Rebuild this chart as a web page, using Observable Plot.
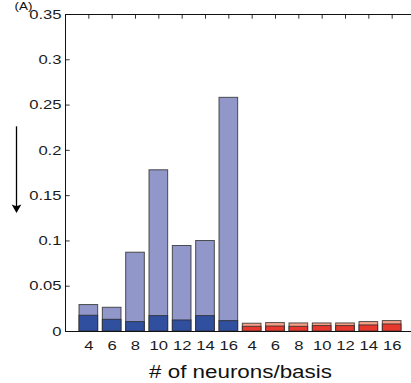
<!DOCTYPE html>
<html><head><meta charset="utf-8">
<script src="https://cdn.jsdelivr.net/npm/d3@7"></script>
<script src="https://cdn.jsdelivr.net/npm/@observablehq/plot@0.6"></script>
<style>
html,body{margin:0;padding:0;background:#fff;}
#chart{width:411px;height:383px;overflow:hidden;}
</style></head><body><div id="chart"></div>
<script>
// ---- data ----
const basisSizes = [4, 6, 8, 10, 12, 14, 16];
const blueTotal = [0.0292, 0.0262, 0.087, 0.178, 0.0944, 0.0999, 0.258];
const blueBase  = [0.0174, 0.0129, 0.0104, 0.017, 0.0122, 0.017, 0.0115];
const redTotal  = [0.0086, 0.0093, 0.0089, 0.0089, 0.0089, 0.0104, 0.0115];
const redBase   = [0.0052, 0.0055, 0.0052, 0.006, 0.006, 0.0067, 0.0078];
const yTicks = [0, 0.05, 0.1, 0.15, 0.2, 0.25, 0.3, 0.35];
const xLabel = "# of neurons/basis";
const panelLabel = "(A)";
const arrowNote = [{x: -2.1, y1: 0.226, y2: 0.137}];

const blueRows = basisSizes.map((n, k) => ({i: k + 1, n, total: blueTotal[k], base: blueBase[k]}));
const redRows = basisSizes.map((n, k) => ({i: k + 8, n, total: redTotal[k], base: redBase[k]}));
const allRows = blueRows.concat(redRows);
const idx = allRows.map(d => d.i);
const labelOf = new Map(allRows.map(d => [d.i, String(d.n)]));

const half = 0.4;
const edge = {stroke: "#2a2a2a", strokeOpacity: 0.8, strokeWidth: 1};
const downTriangle = {
  draw(ctx, size) {
    const y = Math.sqrt(size / (Math.sqrt(3) * 3));
    ctx.moveTo(0, 2 * y);
    ctx.lineTo(-Math.sqrt(3) * y, -y);
    ctx.lineTo(0, -0.4 * y);
    ctx.lineTo(Math.sqrt(3) * y, -y);
    ctx.closePath();
  }
};

const chart = Plot.plot({
  width: 411, height: 383,
  marginLeft: 65, marginRight: -4, marginTop: 14, marginBottom: 52,
  x: {type: "linear", domain: [0, 15]},
  y: {domain: [0, 0.35]},
  style: {fontFamily: "'Liberation Sans', Arial, Helvetica, sans-serif", fontSize: "13px", color: "#1a1a1a", background: "#fff"},
  marks: [
    // inward ticks
    Plot.ruleX(idx, {x: d => d, y1: 0.35, y2: 0.35 - 0.0052, stroke: "#333"}),
    Plot.ruleX(idx, {x: d => d, y1: 0, y2: 0.0052, stroke: "#333"}),
    Plot.ruleY(yTicks, {y: d => d, x1: 0, x2: 0.2, stroke: "#333"}),
    // bars
    Plot.rectY(blueRows, {x1: d => d.i - half, x2: d => d.i + half, y1: 0, y2: "total", fill: "#9197c9", ...edge}),
    Plot.rectY(blueRows, {x1: d => d.i - half, x2: d => d.i + half, y1: 0, y2: "base", fill: "#30509f", ...edge}),
    Plot.rectY(redRows, {x1: d => d.i - half, x2: d => d.i + half, y1: 0, y2: "total", fill: "#f4a087", ...edge}),
    Plot.rectY(redRows, {x1: d => d.i - half, x2: d => d.i + half, y1: 0, y2: "base", fill: "#e8372d", ...edge}),
    // frame
    Plot.ruleX([0], {stroke: "#111"}),
    Plot.ruleY([0, 0.35], {stroke: "#111"}),
    // axes
    Plot.axisY(yTicks, {anchor: "left", tickSize: 0, tickPadding: 4, tickFormat: d => String(d), fontSize: 13}),
    Plot.axisX(idx, {anchor: "bottom", tickSize: 0, tickPadding: 9, tickFormat: i => labelOf.get(i), fontSize: 13, label: null}),
    Plot.text([xLabel], {frameAnchor: "bottom", lineAnchor: "bottom", dy: 46, fontSize: 17.5, text: d => d, fill: "#111"}),
    Plot.text([panelLabel], {frameAnchor: "top-left", lineAnchor: "bottom", dx: -51, dy: -5, fontSize: 10.5, text: d => d, fill: "#111"}),
    // arrow annotation
    Plot.ruleX(arrowNote, {x: "x", y1: "y1", y2: "y2", stroke: "#000", strokeWidth: 1.3}),
    Plot.dot(arrowNote, {x: "x", y: "y2", symbol: downTriangle, r: 3.6, fill: "#000", stroke: "none"})
  ]
});
document.getElementById("chart").appendChild(chart);

// horizontal stretch of glyphs to match the reference's wide lettering
const S = 1.28;
chart.querySelectorAll("text").forEach(t => {
  const b = t.getBBox();
  const a = getComputedStyle(t).textAnchor;
  const ax = a === "end" ? b.x + b.width : a === "middle" ? b.x + b.width / 2 : b.x;
  t.setAttribute("transform", (t.getAttribute("transform") || "") + ` translate(${ax} 0) scale(${S} 1) translate(${-ax} 0)`);
});
</script></body></html>
